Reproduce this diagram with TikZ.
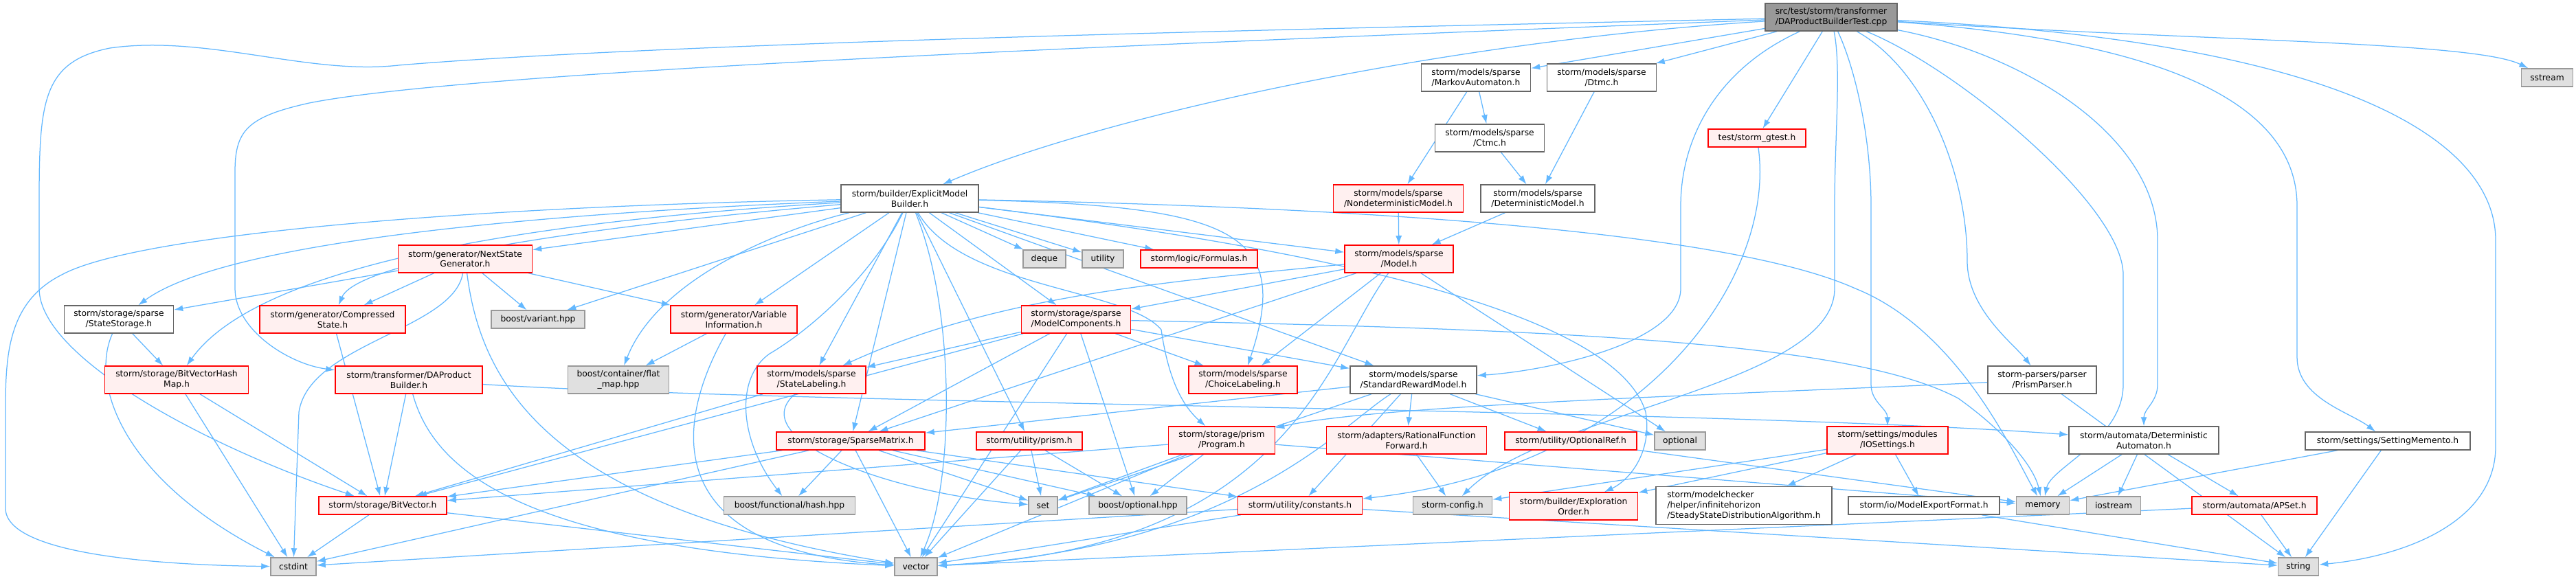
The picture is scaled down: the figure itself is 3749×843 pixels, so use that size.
\documentclass[tikz,border=0pt]{standalone}
\usepackage{fontspec}
\setmainfont{DejaVu Sans}
\usetikzlibrary{arrows.meta}
\definecolor{ecol}{HTML}{63B8FF}
\definecolor{nred}{HTML}{FF0000}
\definecolor{nredfill}{HTML}{FFF0F0}
\definecolor{ngray}{HTML}{666666}
\definecolor{gborder}{HTML}{999999}
\definecolor{gfill}{HTML}{E0E0E0}
\definecolor{topfill}{HTML}{999999}
\pgfdeclarelayer{bg}
\pgfsetlayers{bg,main}
\tikzset{
  basebox/.style={draw, rectangle, inner sep=0pt, align=center, line width=0.3mm,
    font=\fontsize{7}{8.5}\selectfont},
  rednode/.style={basebox, draw=nred, fill=nredfill},
  whitenode/.style={basebox, draw=ngray, fill=white},
  graynode/.style={basebox, draw=gborder, fill=gfill},
  topnode/.style={basebox, draw=ngray, fill=topfill},
  edge/.style={draw=ecol, line width=0.25mm, -{Latex[length=2.6mm,width=1.8mm]}},
}
\newcommand\mkbox[7]{\node[#2, minimum width=#5*0.2mm, minimum height=#6*0.2mm] (#1) at (#3,#4) {#7};}
\begin{document}
\begin{tikzpicture}[x=0.2mm,y=-0.2mm]
\useasboundingbox (0,0) rectangle (3749,843);
% nodes
\mkbox{t}{topnode}{2665}{25}{192}{40}{src/test/storm/transformer\\/DAProductBuilderTest.cpp}
\mkbox{emb}{whitenode}{1324}{289}{200}{40}{storm/builder/ExplicitModel\\Builder.h}
\mkbox{ma}{whitenode}{2148}{113}{159}{40}{storm/models/sparse\\/MarkovAutomaton.h}
\mkbox{dtmc}{whitenode}{2331}{113}{159}{40}{storm/models/sparse\\/Dtmc.h}
\mkbox{sstream}{graynode}{3707}{113}{75}{26}{sstream}
\mkbox{ctmc}{whitenode}{2168}{201}{159}{40}{storm/models/sparse\\/Ctmc.h}
\mkbox{gtest}{rednode}{2557}{201}{142}{26}{test/storm\_gtest.h}
\mkbox{ndm}{rednode}{2035}{289}{189}{40}{storm/models/sparse\\/NondeterministicModel.h}
\mkbox{dm}{whitenode}{2238}{289}{166}{40}{storm/models/sparse\\/DeterministicModel.h}
\mkbox{nsg}{rednode}{677}{377}{195}{40}{storm/generator/NextState\\Generator.h}
\mkbox{deque}{graynode}{1520}{377}{62}{26}{deque}
\mkbox{utility}{graynode}{1605}{377}{60}{26}{utility}
\mkbox{formulas}{rednode}{1745}{377}{170}{26}{storm/logic/Formulas.h}
\mkbox{model}{rednode}{2036}{377}{158}{40}{storm/models/sparse\\/Model.h}
\mkbox{ss}{whitenode}{173}{465}{159}{40}{storm/storage/sparse\\/StateStorage.h}
\mkbox{cs}{rednode}{484}{465}{212}{40}{storm/generator/Compressed\\State.h}
\mkbox{variant}{graynode}{783}{465}{136}{26}{boost/variant.hpp}
\mkbox{vi}{rednode}{1068}{465}{184}{40}{storm/generator/Variable\\Information.h}
\mkbox{mc}{rednode}{1566}{465}{159}{40}{storm/storage/sparse\\/ModelComponents.h}
\mkbox{bvhm}{rednode}{257}{553}{209}{40}{storm/storage/BitVectorHash\\Map.h}
\mkbox{dapb}{rednode}{595}{553}{214}{40}{storm/transformer/DAProduct\\Builder.h}
\mkbox{flatmap}{graynode}{900}{553}{147}{40}{boost/container/flat\\\_map.hpp}
\mkbox{sl}{rednode}{1181}{553}{158}{40}{storm/models/sparse\\/StateLabeling.h}
\mkbox{cl}{rednode}{1809}{553}{158}{40}{storm/models/sparse\\/ChoiceLabeling.h}
\mkbox{srm}{whitenode}{2057}{553}{184}{40}{storm/models/sparse\\/StandardRewardModel.h}
\mkbox{pp}{whitenode}{2972}{553}{158}{40}{storm-parsers/parser\\/PrismParser.h}
\mkbox{sm}{rednode}{1238}{642}{216}{26}{storm/storage/SparseMatrix.h}
\mkbox{prism}{rednode}{1498}{642}{154}{26}{storm/utility/prism.h}
\mkbox{prog}{rednode}{1778}{641}{155}{40}{storm/storage/prism\\/Program.h}
\mkbox{rff}{rednode}{2047}{641}{233}{40}{storm/adapters/RationalFunction\\Forward.h}
\mkbox{oref}{rednode}{2286}{642}{192}{26}{storm/utility/OptionalRef.h}
\mkbox{optional}{graynode}{2445}{642}{74}{26}{optional}
\mkbox{ios}{rednode}{2747}{641}{176}{40}{storm/settings/modules\\/IOSettings.h}
\mkbox{da}{whitenode}{3120}{641}{218}{40}{storm/automata/Deterministic\\Automaton.h}
\mkbox{smem}{whitenode}{3475}{642}{240}{26}{storm/settings/SettingMemento.h}
\mkbox{bv}{rednode}{557}{736}{186}{26}{storm/storage/BitVector.h}
\mkbox{hash}{graynode}{1149}{736}{191}{26}{boost/functional/hash.hpp}
\mkbox{set}{graynode}{1518}{736}{42}{26}{set}
\mkbox{bopt}{graynode}{1656}{736}{142}{26}{boost/optional.hpp}
\mkbox{nconst}{rednode}{1892}{736}{181}{26}{storm/utility/constants.h}
\mkbox{cfg}{graynode}{2114}{736}{115}{26}{storm-config.h}
\mkbox{eo}{rednode}{2290}{737}{187}{40}{storm/builder/Exploration\\Order.h}
\node[whitenode, align=left, minimum width=256*0.2mm, minimum height=55*0.2mm] (ssd) at (2538,736)
  {storm/modelchecker\\/helper/infinitehorizon\\/SteadyStateDistributionAlgorithm.h};
\mkbox{mef}{whitenode}{2800}{736}{220}{26}{storm/io/ModelExportFormat.h}
\mkbox{memory}{graynode}{2973}{736}{77}{26}{memory}
\mkbox{iostream}{graynode}{3076}{736}{79}{26}{iostream}
\mkbox{apset}{rednode}{3281}{736}{182}{26}{storm/automata/APSet.h}
\mkbox{cstdint}{graynode}{427}{825}{66}{26}{cstdint}
\mkbox{vector}{graynode}{1333}{825}{62}{26}{vector}
\mkbox{string}{graynode}{3345}{825}{59}{26}{string}

\begin{pgfonlayer}{bg}
\fill[white] (0,0) rectangle (3749,843);
% edges from the test file
\draw[edge] (t) .. controls (2100,60) and (1600,170) .. (emb);
\draw[edge] (t) -- (ma);
\draw[edge] (t) -- (dtmc);
\draw[edge] (t) -- (gtest);
\draw[edge] (t) .. controls (3200,60) and (3600,60) .. (sstream);
\draw[edge] (t) .. controls (3400,60) and (3632,200) .. (3632,350) -- (3632,650) .. controls (3632,760) and (3500,810) .. (string);
\draw[edge] (t) .. controls (3150,60) and (3343,150) .. (3343,300) -- (3343,520) .. controls (3343,580) and (3420,600) .. (smem);
\draw[edge] (t) .. controls (2950,80) and (3140,200) .. (3140,350) -- (3140,560) to[out=-90,in=90] (da);
\draw[edge] (t) .. controls (2850,100) and (3090,300) .. (3090,400) -- (3090,560) .. controls (3090,640) and (2985,680) .. (memory);
\draw[edge] (t) .. controls (2800,100) and (2863,250) .. (2863,380) .. controls (2863,450) and (2930,500) .. (pp);
\draw[edge] (t) .. controls (2700,100) and (2723,200) .. (2723,300) -- (2723,560) to[out=-90,in=90] (ios);
\draw[edge] (t) .. controls (2680,100) and (2670,200) .. (2670,300) -- (2670,420) .. controls (2670,560) and (2250,600) .. (cfg);
\draw[edge] (t) .. controls (2500,100) and (2446,200) .. (2446,300) -- (2446,420) .. controls (2446,500) and (2250,540) .. (srm);
\draw[edge] (t) .. controls (2000,40) and (1000,60) .. (580,95) .. controls (450,110) and (300,50) .. (160,70) .. controls (60,90) and (57,150) .. (57,300) -- (57,420) .. controls (57,520) and (300,650) .. (bv);
\draw[edge] (t) .. controls (1800,60) and (700,100) .. (450,150) .. controls (360,170) and (342,190) .. (342,250) -- (342,420) .. controls (342,480) and (420,530) .. (dapb);
\draw[edge] (gtest) .. controls (2585,400) and (2400,680) .. (nconst);
% models
\draw[edge] (ma) -- (ndm);
\draw[edge] (ma) -- (ctmc);
\draw[edge] (dtmc) -- (dm);
\draw[edge] (ctmc) -- (dm);
\draw[edge] (ndm) -- (model);
\draw[edge] (dm) -- (model);
% ExplicitModelBuilder
\foreach \n in {deque,utility,formulas,model,srm,sm,prism,mc,nsg,vi,variant,sl}
  \draw[edge] (emb) -- (\n);
\draw[edge] (emb) .. controls (1150,330) and (960,400) .. (flatmap);
\draw[edge] (emb) .. controls (1270,400) and (1180,480) .. (1120,515) .. controls (1070,550) and (1075,640) .. (hash);
\draw[edge] (emb) .. controls (700,300) and (200,340) .. (90,400) .. controls (10,440) and (8,520) .. (8,600) -- (8,740) .. controls (8,810) and (250,823) .. (cstdint);
\draw[edge] (emb) .. controls (800,310) and (330,350) .. (ss);
\draw[edge] (emb) .. controls (800,320) and (380,380) .. (bvhm);
\draw[edge] (emb) .. controls (850,330) and (520,380) .. (cs);
\draw[edge] (emb) .. controls (1900,300) and (2500,330) .. (2700,420) .. controls (2850,480) and (2930,660) .. (memory);
\draw[edge] (emb) .. controls (1800,300) and (1880,340) .. (cl);
\draw[edge] (emb) .. controls (1400,420) and (1640,420) .. (1690,480) .. controls (1700,550) and (1720,590) .. (prog);
\draw[edge] (emb) .. controls (1900,360) and (2350,450) .. (2395,600) .. controls (2405,660) and (2370,700) .. (eo);
\draw[edge] (emb) .. controls (1390,450) and (1390,700) .. (vector);
% NextStateGenerator
\foreach \n in {ss,cs,variant,vi}
  \draw[edge] (nsg) -- (\n);
\draw[edge] (nsg) .. controls (660,480) and (450,500) .. (435,600) -- (cstdint);
\draw[edge] (nsg) .. controls (700,560) and (800,740) .. (vector);
% Model
\foreach \n in {mc,cl,optional,sm}
  \draw[edge] (model) -- (\n);
\draw[edge] (model) .. controls (1700,410) and (1450,430) .. (sl);
\draw[edge] (model) .. controls (1930,520) and (1880,800) .. (vector);
% ModelComponents
\foreach \n in {sl,sm,bv,cl,srm,bopt,vector}
  \draw[edge] (mc) -- (\n);
\draw[edge] (mc) .. controls (2300,480) and (2700,500) .. (2850,580) .. controls (2920,630) and (2960,680) .. (memory);
% StandardRewardModel
\foreach \n in {rff,oref,optional,sm,nconst,set}
  \draw[edge] (srm) -- (\n);
\draw[edge] (srm) .. controls (1950,620) and (1800,800) .. (vector);
% SparseMatrix
\foreach \n in {bv,hash,bopt,set,vector,cstdint,nconst}
  \draw[edge] (sm) -- (\n);
\foreach \n in {set,bopt,vector}
  \draw[edge] (prism) -- (\n);
\foreach \n in {set,bopt,vector,bv,memory}
  \draw[edge] (prog) -- (\n);
\draw[edge] (rff) -- (cfg);
\draw[edge] (oref) -- (memory);
\foreach \n in {cfg,eo,ssd,mef}
  \draw[edge] (ios) -- (\n);
\draw[edge] (mef) -- (string);
\foreach \n in {memory,iostream,apset}
  \draw[edge] (da) -- (\n);
\draw[edge] (apset) -- (string);
\draw[edge] (apset) -- (vector);
\draw[edge] (smem) -- (memory);
\draw[edge] (smem) -- (string);
\draw[edge] (pp) .. controls (2500,575) and (2000,590) .. (prog);
\draw[edge] (pp) -- (string);
\draw[edge] (dapb) -- (bv);
\draw[edge] (dapb) .. controls (1200,590) and (2500,595) .. (da);
\draw[edge] (dapb) .. controls (630,680) and (750,800) .. (vector);
\draw[edge] (bv) -- (cstdint);
\draw[edge] (bv) -- (vector);
\draw[edge] (bvhm) -- (bv);
\draw[edge] (bvhm) -- (cstdint);
\draw[edge] (ss) -- (bvhm);
\draw[edge] (ss) .. controls (130,560) and (180,700) .. (cstdint);
\draw[edge] (cs) -- (bv);
\draw[edge] (vi) -- (flatmap);
\draw[edge] (vi) .. controls (980,620) and (960,800) .. (vector);
\draw[edge] (nconst) -- (cstdint);
\draw[edge] (nconst) -- (vector);
\draw[edge] (nconst) -- (string);
\draw[edge] (sl) -- (bv);
\draw[edge] (sl) .. controls (1080,640) and (1300,720) .. (set);
\end{pgfonlayer}
\end{tikzpicture}
\end{document}
